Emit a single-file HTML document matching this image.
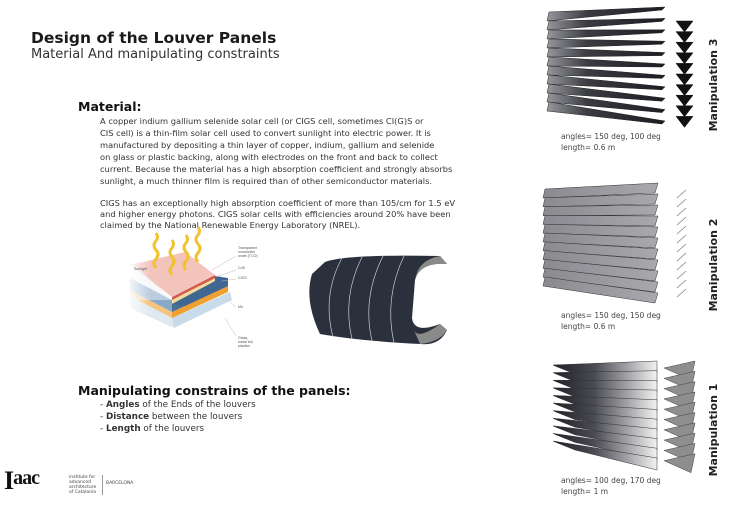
<!DOCTYPE html>
<html><head><meta charset="utf-8"><style>
html,body{margin:0;padding:0;background:#fff;}
body{width:730px;height:516px;overflow:hidden;position:relative;font-family:"DejaVu Sans","Liberation Sans",sans-serif;color:#222;}
.t{position:absolute;white-space:nowrap;}
.p{font-size:8.3px;line-height:12px;color:#333;}
</style></head><body>
<div class="t" style="left:31px;top:29px;font-size:15.5px;font-weight:bold;color:#1a1a1a;">Design of the Louver Panels</div>
<div class="t" style="left:31px;top:47px;font-size:13px;color:#333;">Material And manipulating constraints</div>
<div class="t" style="left:78px;top:99px;font-size:12.5px;font-weight:bold;color:#111;">Material:</div>
<div class="t p" style="left:100px;top:115px;">A copper indium gallium selenide solar cell (or CIGS cell, sometimes CI(G)S or<br>CIS cell) is a thin-film solar cell used to convert sunlight into electric power. It is<br>manufactured by depositing a thin layer of copper, indium, gallium and selenide<br>on glass or plastic backing, along with electrodes on the front and back to collect<br>current. Because the material has a high absorption coefficient and strongly absorbs<br>sunlight, a much thinner film is required than of other semiconductor materials.</div>
<div class="t p" style="left:100px;top:198px;line-height:11px;">CIGS has an exceptionally high absorption coefficient of more than 105/cm for 1.5 eV<br>and higher energy photons. CIGS solar cells with efficiencies around 20% have been<br>claimed by the National Renewable Energy Laboratory (NREL).</div>
<div class="t" style="left:78px;top:383px;font-size:12.5px;font-weight:bold;color:#111;">Manipulating constrains of the panels:</div>
<div class="t p" style="left:100px;top:399px;font-size:8.8px;">- <b>Angles</b> of the Ends of the louvers<br>- <b>Distance</b> between the louvers<br>- <b>Length</b> of the louvers</div>
<div class="t" style="left:4px;top:466px;font-size:26px;font-weight:bold;font-family:'Liberation Serif',serif;color:#111;letter-spacing:-1px;">I<span style="font-size:20px;vertical-align:5px">aac</span></div>
<div class="t" style="left:69px;top:475px;font-size:4.5px;line-height:5px;color:#444;border-right:1px solid #999;padding-right:6px;">institute for<br>advanced<br>architecture<br>of Catalonia</div>
<div class="t" style="left:106px;top:481px;font-size:4.5px;color:#444;">BARCELONA</div>
<div class="t" style="left:561px;top:131px;font-size:7.5px;line-height:11px;color:#444;">angles= 150 deg, 100 deg<br>length= 0.6 m</div>
<div class="t" style="left:561px;top:310px;font-size:7.5px;line-height:11px;color:#444;">angles= 150 deg, 150 deg<br>length= 0.6 m</div>
<div class="t" style="left:561px;top:475px;font-size:7.5px;line-height:11px;color:#444;">angles= 100 deg, 170 deg<br>length= 1 m</div>
<svg id="s" width="730" height="516" style="position:absolute;left:0;top:0">
<defs>
<linearGradient id="g3" gradientUnits="userSpaceOnUse" x1="545" y1="0" x2="665" y2="0"><stop offset="0" stop-color="#9a9ca2"/><stop offset="0.35" stop-color="#3a3c42"/><stop offset="1" stop-color="#1c1d22"/></linearGradient>
<linearGradient id="g2" gradientUnits="userSpaceOnUse" x1="543" y1="0" x2="658" y2="0"><stop offset="0" stop-color="#8a8a90"/><stop offset="1" stop-color="#a8a8ad"/></linearGradient>
<linearGradient id="g1" gradientUnits="userSpaceOnUse" x1="552" y1="0" x2="657" y2="0"><stop offset="0" stop-color="#1e1f26"/><stop offset="0.4" stop-color="#4a4b52"/><stop offset="1" stop-color="#f2f2f2"/></linearGradient>
<linearGradient id="fade" x1="0" x2="1"><stop offset="0" stop-color="#fff" stop-opacity="1"/><stop offset="1" stop-color="#fff" stop-opacity="0"/></linearGradient>
</defs>
<g font-family="DejaVu Sans,sans-serif" font-weight="bold" font-size="11" fill="#222">
<text transform="translate(717,85) rotate(-90)" text-anchor="middle">Manipulation 3</text>
<text transform="translate(717,265) rotate(-90)" text-anchor="middle">Manipulation 2</text>
<text transform="translate(717,430) rotate(-90)" text-anchor="middle">Manipulation 1</text>
</g>
<g>
<polygon points="172,318 230,292 232,300 174,328" fill="#c9dbe9"/>
<polygon points="130,296 172,318 174,328 130,308" fill="#dfe9f1"/>
<polygon points="172,312 228,286 228,292 172,318" fill="#f0a030"/>
<polygon points="130,290 172,312 172,318 130,296" fill="#f5c480"/>
<polygon points="172,300 228,278 228,286 172,312" fill="#4a6f95"/>
<polygon points="130,278 172,300 172,312 130,290" fill="#88a8c8"/>
<polygon points="172,304 185,306 228,286 228,278 215,276" fill="#3f6791"/>
<polygon points="172,300 215,278 215,281 172,304" fill="#f3dc9c"/>
<polygon points="172,297 215,275 215,278 172,300" fill="#d45a50"/>
<polygon points="130,265 185,252 215,275 172,297" fill="#f3c4bc"/>
<polygon points="130,260 172,300 130,300" fill="#eef2f6" opacity="0.5"/>
<rect x="125" y="250" width="25" height="85" fill="url(#fade)"/>
<g stroke="#f2c230" stroke-width="3" fill="none">
<path d="M156,268 q-4,-5 0,-9 q4,-5 0,-9 q-4,-5 0,-9 q3,-4 0,-8"/>
<path d="M172,275 q-4,-5 0,-9 q4,-5 0,-9 q-4,-5 0,-9 q3,-4 0,-8"/>
<path d="M186,270 q-4,-5 0,-9 q4,-5 0,-9 q-4,-5 0,-9 q3,-4 0,-8"/>
<path d="M198,262 q-4,-5 0,-9 q4,-5 0,-9 q-4,-5 0,-9 q3,-4 0,-8"/>
</g>
<g font-size="3.6" fill="#555" font-family="Liberation Sans,sans-serif">
<text x="134" y="270">Sunlight</text>
<text x="238" y="249">Transparent</text><text x="238" y="253">conductive</text><text x="238" y="257">oxide (TCO)</text>
<text x="238" y="269">CdS</text><text x="238" y="279">CIGS</text><text x="238" y="308">Mo</text>
<text x="238" y="339">Glass,</text><text x="238" y="343">metal foil,</text><text x="238" y="347">plastics</text>
</g>
<g stroke="#bbb" stroke-width="0.5" fill="none"><path d="M212,270 L236,256"/><path d="M216,277 L236,270"/><path d="M222,281 L236,279"/><path d="M228,300 L236,307"/><path d="M225,318 L236,336"/></g>
</g>
<path d="M325,262 Q345,254 440,256 L447,264 Q420,262 415,280 L412,318 Q414,334 440,324 L447,330 Q440,346 420,344 Q360,341 320,334 Q304,300 312,274 Z" fill="#2b303d"/>
<path d="M440,256 L447,264 Q420,262 415,280 Q418,260 440,256Z" fill="#8a8a8a"/>
<path d="M414,330 Q418,340 440,324 L447,330 Q440,342 420,344Z" fill="#8a8a8a"/>
<g stroke="#c8ccd4" stroke-width="0.7" fill="none">
<path d="M342,258 Q322,295 333,337"/><path d="M362,257 Q342,297 352,339"/><path d="M383,256 Q362,298 372,341"/><path d="M404,256 Q384,298 394,343"/>
</g>
<g id="man"></g>
</svg>
<script>
var g=document.getElementById('man'),h='';
function P(pts,f,s){h+='<polygon points="'+pts.map(function(p){return p.join(',')}).join(' ')+'" fill="'+f+'" stroke="'+(s||'#222')+'" stroke-width="0.5"/>';}
for(var i=0;i<11;i++){var ly=12+9*i,ry=7+11.4*i;P([[549,ly],[665,ry],[662,ry+3],[547,ly+9]],'url(#g3)');}
for(var i=0;i<10;i++){var y=21+10.6*i;P([[676,y],[693,y],[684.5,y+11]],'#111','#111');}
for(var i=0;i<11;i++){var ly=189+8.8*i,ry=183+11*i;P([[545,ly],[658,ry],[655,ry+10],[543,ly+9]],'url(#g2)','#333');}
for(var i=0;i<12;i++){var y=190+9*i;h+='<line x1="677" y1="'+(y+8)+'" x2="686" y2="'+y+'" stroke="#777" stroke-width="0.7"/>';}
for(var i=0;i<11;i++){var ly=365+7.6*i,ry=361+9.7*i;P([[553,ly],[657,ry],[657,ry+12],[575,ly+9],[555,ly+1]],'url(#g1)','#333');}
for(var i=0;i<10;i++){var y=368+10.3*i;P([[664,y],[695,y-7],[691,y+12]],'#8e8e8e','#444');}
g.innerHTML=h;
</script>
</body></html>
